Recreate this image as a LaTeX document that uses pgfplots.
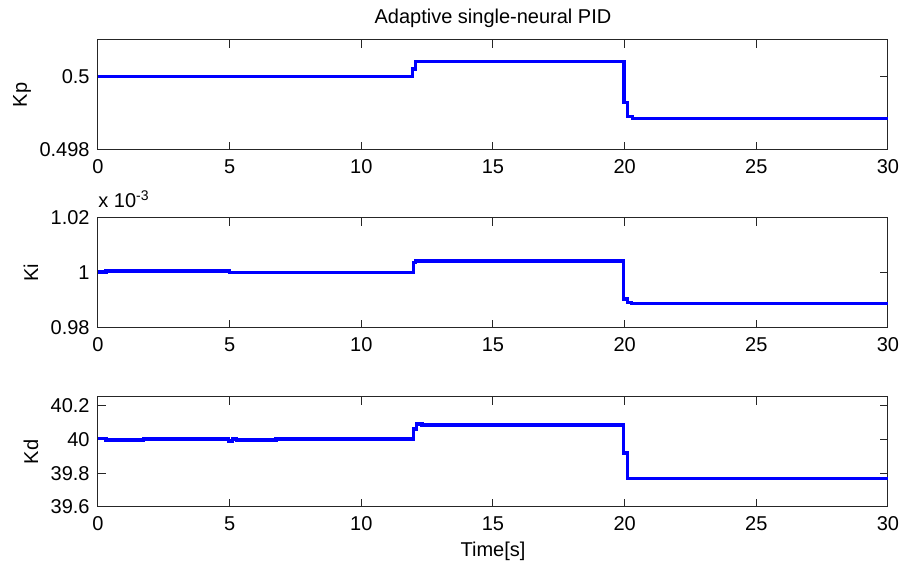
\documentclass[border=0pt]{standalone}
\usepackage{fontspec}
\setmainfont{Liberation Sans}
\usepackage{pgfplots}
\pgfplotsset{compat=1.18}
% 1 px of the reference = 0.5pt here
\pgfplotsset{
  pidpanel/.style={
    scale only axis, width=395pt, height=55pt,
    anchor=north west,
    xmin=0, xmax=30, xtick={0,5,...,30},
    axis line style={black!85, line width=0.5pt},
    tick style={black!85, line width=0.5pt},
    tick align=inside, major tick length=4pt,
    /pgf/number format/assume math mode=true,
    tick label style={font=\fontsize{10}{12}\selectfont},
    label style={font=\fontsize{10}{12}\selectfont},
    xticklabel style={anchor=base, yshift=-12pt},
    yticklabel style={anchor=east, inner sep=0pt, xshift=-4pt},
    ylabel style={anchor=base},
    no markers,
    every axis plot/.append style={color=blue, line width=1.7pt, line join=miter},
  },
}
\begin{document}
\begin{tikzpicture}
\useasboundingbox (0pt,0pt) rectangle (451pt,-283pt);
% Kp
\begin{axis}[pidpanel, at={(49pt,-20pt)},
  ymin=0.498, ymax=0.501, ytick={0.498,0.5}, yticklabels={0.498,0.5},
  ylabel={Kp}, ylabel style={at={(axis description cs:-0.0899,0.5)}},
  title={Adaptive single-neural PID}, every axis title shift=0pt,
  title style={at={(axis description cs:0.5,1)}, anchor=base, yshift=8pt, font=\fontsize{10}{12}\selectfont}]
\addplot coordinates {(0,0.5) (11.95,0.5) (11.95,0.50021) (12.05,0.50021) (12.05,0.50042)
  (19.97,0.50042) (19.97,0.4993) (20.1,0.4993) (20.1,0.49891) (20.3,0.49891)
  (20.3,0.49886) (30,0.49886)};
\end{axis}
% Ki (x 10^-3)
\begin{axis}[pidpanel, at={(49pt,-109pt)},
  ymin=0.98, ymax=1.02, ytick={0.98,1,1.02}, yticklabels={0.98,1,1.02},
  ylabel={Ki}, ylabel style={at={(axis description cs:-0.0759,0.5)}},
  extra description/.code={\node[anchor=base west, inner sep=0pt, yshift=5pt,
    font=\fontsize{10}{12}\selectfont] at (rel axis cs:0,1) {x 10\textsuperscript{-3}};}]
\addplot coordinates {(0,1.0003) (0.3,1.0003) (0.3,1.0007) (4.99,1.0007) (4.99,1.0001)
  (11.97,1.0001) (11.97,1.0038) (12.05,1.0038) (12.05,1.0044) (19.95,1.0044)
  (19.95,0.9905) (20.1,0.9905) (20.1,0.9892) (20.27,0.9892) (20.27,0.9888) (30,0.9888)};
\end{axis}
% Kd
\begin{axis}[pidpanel, at={(49pt,-198.5pt)},
  ymin=39.6, ymax=40.25, ytick={39.6,39.8,40,40.2}, yticklabels={39.6,39.8,40,40.2},
  ylabel={Kd}, ylabel style={at={(axis description cs:-0.0759,0.5)}},
  xlabel={Time[s]}, xlabel style={at={(axis description cs:0.5,0)}, anchor=base, yshift=-25pt}]
\addplot coordinates {(0,40.004) (0.3,40.004) (0.3,39.996) (1.72,39.996) (1.72,40.002)
  (4.95,40.002) (4.95,39.99) (5.1,39.99) (5.1,40.002) (5.27,40.002) (5.27,39.995)
  (6.76,39.995) (6.76,40.002) (11.97,40.002) (11.97,40.06) (12.1,40.06) (12.1,40.09)
  (12.3,40.09) (12.3,40.085) (19.95,40.085) (19.95,39.92) (20.1,39.92) (20.1,39.77)
  (30,39.77)};
\end{axis}
\end{tikzpicture}
\end{document}
